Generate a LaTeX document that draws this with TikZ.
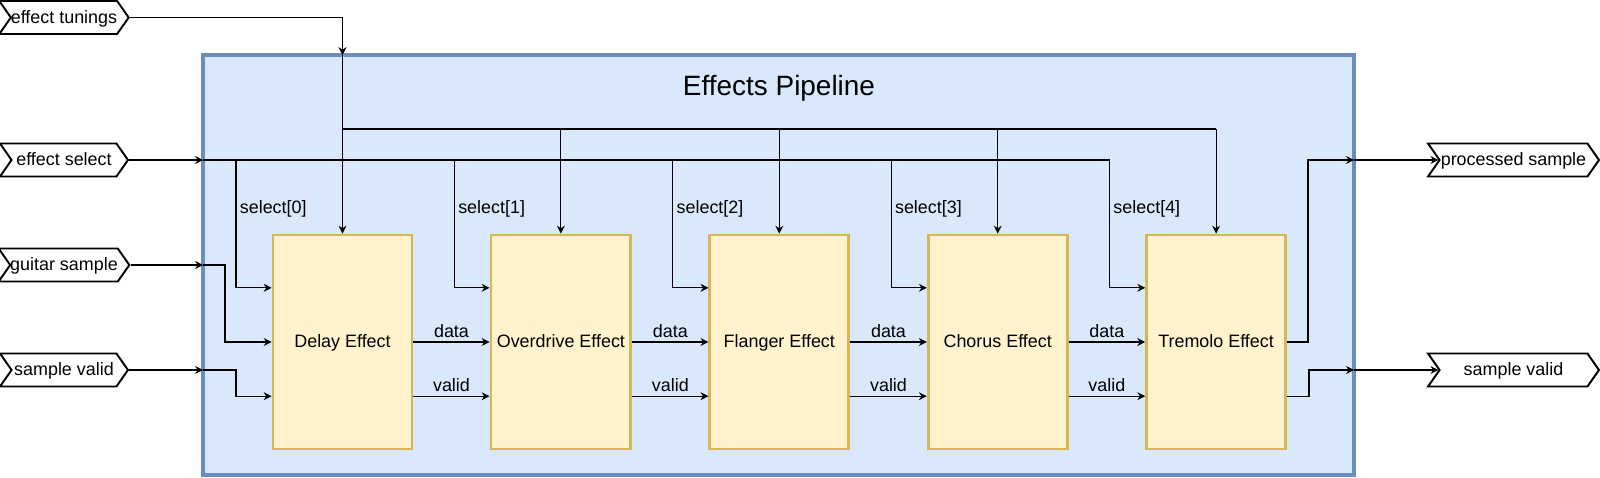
\documentclass[tikz,border=0pt]{standalone}
\usepackage{fontspec}
\setmainfont{Liberation Sans}
\usetikzlibrary{shapes.symbols,calc,arrows.meta}
\definecolor{pipefill}{HTML}{DAE8FC}
\definecolor{pipeline}{HTML}{6C8EBF}
\definecolor{fxfill}{HTML}{FFF2CC}
\definecolor{fxline}{HTML}{D6B656}
\tikzset{
  port/.style={signal, signal from=west, signal to=east, signal pointer angle=110,
    draw, line width=1.1pt, minimum height=0.66cm, inner sep=0pt,
    text height=1.55ex, text depth=0.35ex},
  fxbox/.style={draw=fxline, fill=fxfill, line width=1.6pt,
    minimum width=2.78cm, minimum height=4.28cm, text height=1.55ex, text depth=0.35ex},
  wire/.style={line width=0.6pt, -{Stealth[length=4.5pt,width=4.5pt]}},
  plain/.style={line width=0.6pt}
}

\begin{document}
\begin{tikzpicture}[x=0.02cm, y=-0.02cm, font=\fontsize{10.2}{12}\selectfont]
\useasboundingbox (0,0) rectangle (1600,477);

% draw pipeline border
\draw[draw=pipeline, fill=pipefill, line width=1.8pt] (203,55) rectangle (1354,475);
\node (title) at (779,88) {\fontsize{15.9}{19}\selectfont Effects Pipeline};

% draw ports
\node[port, minimum width=2.56cm] (tune) at (64,17.5) {effect tunings};
\node[port, minimum width=2.56cm] (sel) at (64,160) {effect select};
\node[port, minimum width=2.56cm] (gtr) at (64,265) {guitar sample};
\node[port, minimum width=2.56cm] (vld) at (64,370) {sample valid};
\node[port, minimum width=3.42cm] (out) at (1513.5,160) {processed sample};
\node[port, minimum width=3.42cm] (outv) at (1513.5,370) {sample valid};

% draw effect blocks
\foreach \name [count=\i] in {Delay,Overdrive,Flanger,Chorus,Tremolo}
{
\pgfmathsetmacro\x{342.5+218.4*(\i-1)}
\node[fxbox] (fx\i) at (\x,342) {\name\ Effect};
\coordinate (fxs\i) at ($(fx\i.north west)!0.25!(fx\i.south west)$);
\coordinate (fxv\i) at ($(fx\i.north west)!0.75!(fx\i.south west)$);
\coordinate (fxo\i) at ($(fx\i.north east)!0.75!(fx\i.south east)$);
\coordinate (tap\i) at (\x-106.5,160);
}

% draw tuning lines
\coordinate (tunein) at (fx1.north |- 0,55);
\draw[wire] (tune.east) -| (tunein);
\draw[wire] (tunein) -- (fx1.north);
\draw[plain] (fx1.north |- 0,129) -- (fx5.north |- 0,129);
\foreach \i in {2,...,5}
\draw[wire] (fx\i.north |- 0,129) -- (fx\i.north);

% draw select lines
\coordinate (selin) at (203,160);
\draw[wire] (sel.east) -- (selin);
\draw[plain] (selin) -- (tap5);
\foreach \i [evaluate=\i as \j using int(\i-1)] in {1,...,5}
{
\draw[wire] (tap\i) |- (fxs\i);
\node[right, inner sep=2pt] (sl\i) at (tap\i |- 0,209) {select[\j]};
}

% draw sample inputs
\coordinate (gtrin) at (203,265);
\draw[wire] (gtr.east) -- (gtrin);
\draw[wire] (gtrin) -- ++(22,0) |- (fx1.west);
\coordinate (vldin) at (203,370);
\draw[wire] (vld.east) -- (vldin);
\draw[wire] (vldin) -- (tap1 |- vldin) |- (fxv1);

% draw data and valid lines
\foreach \i [count=\j from 2] in {1,...,4}
{
\draw[wire] (fx\i.east) -- node[above, inner sep=2pt] (dl\i) {data} (fx\j.west);
\draw[wire] (fxo\i) -- node[above, inner sep=2pt] (vl\i) {valid} (fxv\j);
}

% draw outputs
\coordinate (outin) at (1354,160);
\draw[wire] (fx5.east) -- ++(21,0) |- (outin);
\draw[wire] (outin) -- (out.west);
\coordinate (outvin) at (1354,370);
\draw[wire] (fxo5) -- ++(22,0) |- (outvin);
\draw[wire] (outvin) -- (outv.west);
\end{tikzpicture}
\end{document}
